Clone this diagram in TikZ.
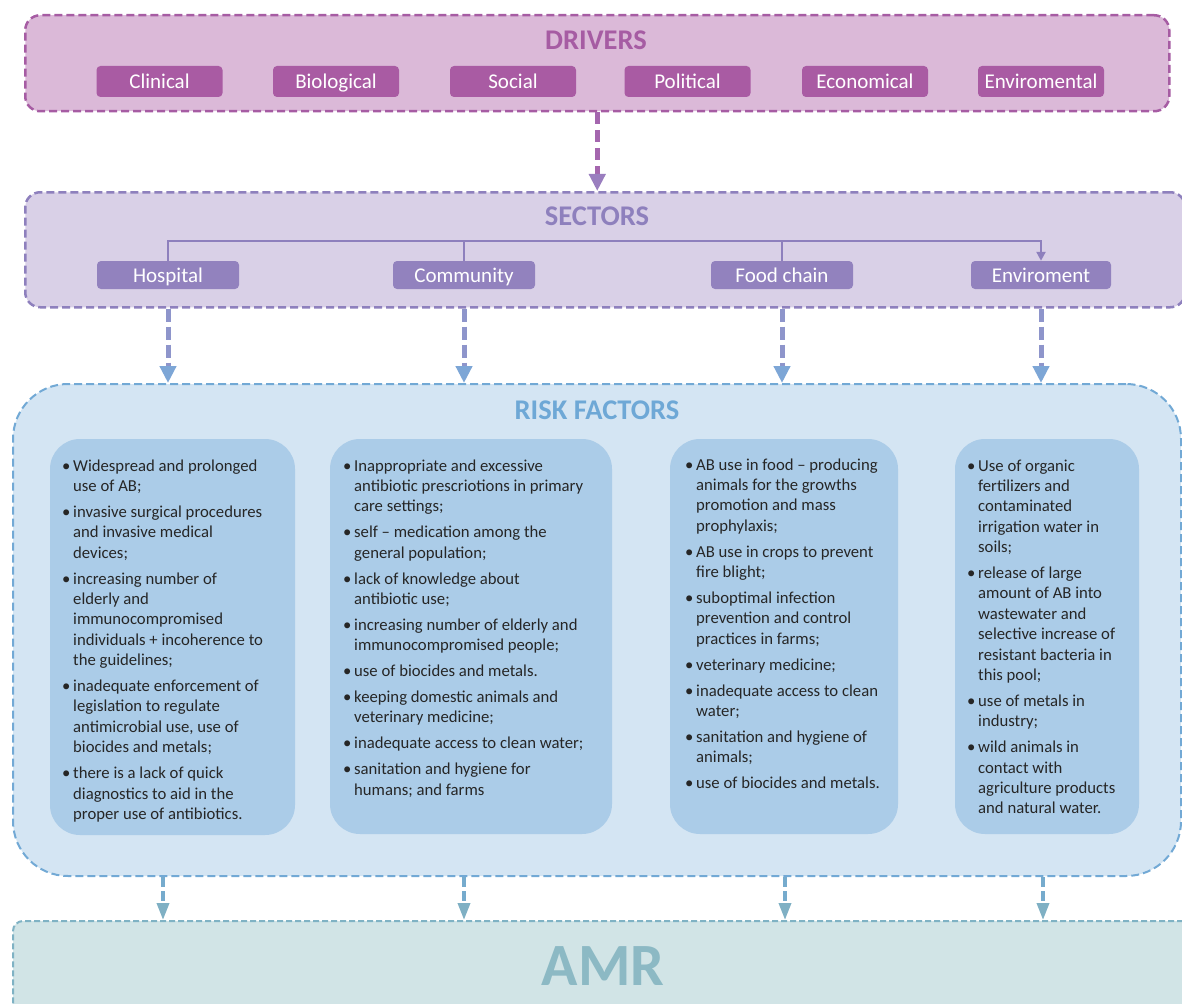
\documentclass[tikz,border=0pt]{standalone}
\usepackage{fontspec}
\setmainfont{Carlito}
\usetikzlibrary{arrows.meta}
\definecolor{drvfill}{HTML}{DBB9D8}
\definecolor{drvline}{HTML}{A65CA3}
\definecolor{drvbtnc}{HTML}{A95BA3}
\definecolor{drvarr}{HTML}{A466AE}
\definecolor{drvhead}{HTML}{9A7EBF}
\definecolor{secfill}{HTML}{D9D0E7}
\definecolor{secline}{HTML}{8E80BD}
\definecolor{secbtnc}{HTML}{9282BE}
\definecolor{secarr}{HTML}{8E95CB}
\definecolor{sechead}{HTML}{7DA6D6}
\definecolor{rffill}{HTML}{D4E5F3}
\definecolor{rfline}{HTML}{72A9D5}
\definecolor{rftitle}{HTML}{6EA8D6}
\definecolor{rfinner}{HTML}{ABCCE8}
\definecolor{rfarr}{HTML}{76ABCD}
\definecolor{rfhead}{HTML}{7FB0C4}
\definecolor{amrfill}{HTML}{D1E4E6}
\definecolor{amrline}{HTML}{7FB2C4}
\definecolor{amrtext}{HTML}{8CB9C4}
\definecolor{bodytext}{HTML}{262626}
\newcommand\rfi[1]{\par\hangindent=11pt\hangafter=1\noindent\hbox to 11pt{\textbullet\hfil}#1\par}
\newcommand\rflist[1]{\parbox[t]{300pt}{\rightskip=0pt plus 1fil\parskip=5.5pt #1}}
\tikzset{
  bigbox/.style={draw, line width=2.5pt, dash pattern=on 8pt off 4pt, anchor=north west, inner sep=0pt},
  titletext/.style={font=\fontsize{28.5}{32}\selectfont\bfseries, inner sep=0pt},
  btnbox/.style={rounded corners=4pt, text=white, font=\fontsize{21}{24}\selectfont, text height=14pt, text depth=0pt, inner sep=0pt, minimum height=31pt},
  rfbox/.style={fill=rfinner, rounded corners=30pt, inner sep=0pt},
  rftext/.style={inner sep=0pt, anchor=base west, text=bodytext, font=\fontsize{16.7}{20.4}\selectfont},
  drvarrow/.style={draw=drvarr, line width=5pt, dash pattern=on 12pt off 6pt, -{Triangle[width=16pt,length=17pt,color=drvhead]}},
  secarrow/.style={draw=secarr, line width=5pt, dash pattern=on 13pt off 5pt, -{Triangle[width=16pt,length=17pt,color=sechead]}},
  rfarrow/.style={draw=rfarr, line width=3.5pt, dash pattern=on 10pt off 4pt, -{Triangle[width=12pt,length=17pt,color=rfhead]}},
  sectree/.style={draw=secline, line width=2.5pt},
}
\begin{document}
\begin{tikzpicture}[x=1pt,y=-1pt]
\useasboundingbox (0,0) rectangle (1182,1003);
% DRIVERS
\node[bigbox, draw=drvline, fill=drvfill, rounded corners=15pt, minimum width=1144pt, minimum height=96pt] (drivers) at (24,14) {};
\node[titletext, text=drvline] (drvT) at (596,40) {DRIVERS};
\node[btnbox, fill=drvbtnc, minimum width=126pt] (clin) at (159.5,81.5) {Clinical};
\node[btnbox, fill=drvbtnc, minimum width=126pt] (biol) at (336,81.5) {Biological};
\node[btnbox, fill=drvbtnc, minimum width=126pt] (soci) at (513,81.5) {Social};
\node[btnbox, fill=drvbtnc, minimum width=126pt] (poli) at (687.5,81.5) {Political};
\node[btnbox, fill=drvbtnc, minimum width=126pt] (econ) at (865,81.5) {Economical};
\node[btnbox, fill=drvbtnc, minimum width=126pt] (envi) at (1041,81.5) {Enviromental};
% SECTORS
\node[bigbox, draw=secline, fill=secfill, rounded corners=15pt, minimum width=1160pt, minimum height=115pt] (sectors) at (24,191) {};
\node[titletext, text=secline] (secT) at (597,216) {SECTORS};
\node[btnbox, fill=secbtnc, minimum width=142pt, minimum height=28pt] (hosp) at (168,275) {Hospital};
\node[btnbox, fill=secbtnc, minimum width=142pt, minimum height=28pt] (comm) at (464,275) {Community};
\node[btnbox, fill=secbtnc, minimum width=142pt, minimum height=28pt] (food) at (782,275) {Food chain};
\node[btnbox, fill=secbtnc, minimum width=140pt, minimum height=28pt] (env) at (1041,275) {Enviroment};
\coordinate (bar) at (0,241);
\draw[sectree, -{Triangle[width=9pt,length=9pt]}] (hosp.north) |- (env.north |- bar) -- (env.north);
\draw[sectree] (comm.north) -- (comm.north |- bar);
\draw[sectree] (food.north) -- (food.north |- bar);
\draw[drvarrow] (drivers.south) -- (drivers.south |- sectors.north);
% RISK FACTORS
\node[bigbox, draw=rfline, fill=rffill, line width=2pt, rounded corners=55pt, minimum width=1168pt, minimum height=492pt] (risk) at (12,383) {};
\node[titletext, text=rftitle] (rfT) at (597,410) {RISK FACTORS};
\draw[secarrow] (hosp |- sectors.south) -- (hosp |- risk.north);
\draw[secarrow] (comm |- sectors.south) -- (comm |- risk.north);
\draw[secarrow] (food |- sectors.south) -- (food |- risk.north);
\draw[secarrow] (env |- sectors.south) -- (env |- risk.north);
\node[rfbox, minimum width=245pt, minimum height=396pt] (b1) at (172.5,637) {};
\node[rfbox, minimum width=282pt, minimum height=395pt] (b2) at (471,636.5) {};
\node[rfbox, minimum width=228pt, minimum height=395pt] (b3) at (784,636.5) {};
\node[rfbox, minimum width=184pt, minimum height=395pt] (b4) at (1047,636.5) {};
\node[rftext] (t1) at (62,471) {\rflist{%
\rfi{Widespread and prolonged\\use of AB;}
\rfi{invasive surgical procedures\\and invasive medical\\devices;}
\rfi{increasing number of\\elderly and\\immunocompromised\\individuals + incoherence to\\the guidelines;}
\rfi{inadequate enforcement of\\legislation to regulate\\antimicrobial use, use of\\biocides and metals;}
\rfi{there is a lack of quick\\diagnostics to aid in the\\proper use of antibiotics.}}};
\node[rftext] (t2) at (343,471) {\rflist{%
\rfi{Inappropriate and excessive\\antibiotic prescriotions in primary\\care settings;}
\rfi{self – medication among the\\general population;}
\rfi{lack of knowledge about\\antibiotic use;}
\rfi{increasing number of elderly and\\immunocompromised people;}
\rfi{use of biocides and metals.}
\rfi{keeping domestic animals and\\veterinary medicine;}
\rfi{inadequate access to clean water;}
\rfi{sanitation and hygiene for\\humans; and farms}}};
\node[rftext] (t3) at (685,470) {\rflist{%
\rfi{AB use in food – producing\\animals for the growths\\promotion and mass\\prophylaxis;}
\rfi{AB use in crops to prevent\\fire blight;}
\rfi{suboptimal infection\\prevention and control\\practices in farms;}
\rfi{veterinary medicine;}
\rfi{inadequate access to clean\\water;}
\rfi{sanitation and hygiene of\\animals;}
\rfi{use of biocides and metals.}}};
\node[rftext] (t4) at (967,471) {\rflist{%
\rfi{Use of organic\\fertilizers and\\contaminated\\irrigation water in\\soils;}
\rfi{release of large\\amount of AB into\\wastewater and\\selective increase of\\resistant bacteria in\\this pool;}
\rfi{use of metals in\\industry;}
\rfi{wild animals in\\contact with\\agriculture products\\and natural water.}}};
% AMR
\node[bigbox, draw=amrline, fill=amrfill, line width=2pt, dash pattern=on 6pt off 3pt, rounded corners=10pt, minimum width=1180pt, minimum height=100pt] (amr) at (12,920) {};
\node[inner sep=0pt, text=amrtext, font=\fontsize{60}{66}\selectfont\bfseries] (amrT) at (603,966) {AMR};
\coordinate (r1) at (163,0);
\coordinate (r2) at (464,0);
\coordinate (r3) at (785,0);
\coordinate (r4) at (1043,0);
\draw[rfarrow] (r1 |- risk.south) -- (r1 |- amr.north);
\draw[rfarrow] (r2 |- risk.south) -- (r2 |- amr.north);
\draw[rfarrow] (r3 |- risk.south) -- (r3 |- amr.north);
\draw[rfarrow] (r4 |- risk.south) -- (r4 |- amr.north);
\end{tikzpicture}
\end{document}
